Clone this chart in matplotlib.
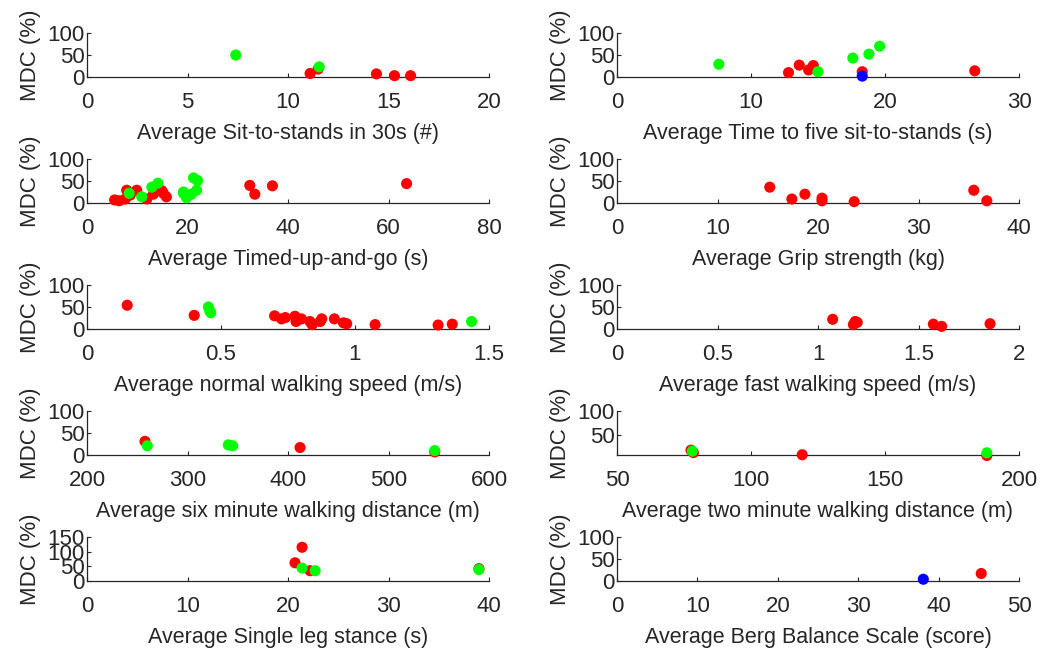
import numpy as np
import matplotlib.pyplot as plt

plt.rcParams['font.family'] = ['Liberation Sans', 'DejaVu Sans']

# ---- data (x = average score, y = MDC %) ----
# sit-to-stands in 30s
sts30_red_x = [11.1, 11.5, 14.4, 15.3, 16.1]
sts30_red_y = [8, 18, 7, 3, 3]
sts30_green_x = [7.4, 11.55]
sts30_green_y = [50, 23]

# time to five sit-to-stands
ftsts_red_x = [12.8, 13.6, 14.3, 14.65, 18.3, 26.7]
ftsts_red_y = [10, 27, 16, 26, 12, 14]
ftsts_green_x = [7.6, 15.0, 17.6, 18.8, 19.6]
ftsts_green_y = [29, 12, 43, 52, 70]
ftsts_blue_x = [18.3]
ftsts_blue_y = [2]

# timed-up-and-go
tug_red_x = [5.5, 6.4, 7.6, 7.9, 8.6, 9.9, 11.9, 13.2, 14.9, 15.2, 15.8, 32.4, 33.4, 36.9, 63.6]
tug_red_y = [7, 5, 9, 29, 18, 29, 9, 20, 28, 22, 14, 40, 20, 39, 44]
tug_green_x = [8.4, 10.9, 12.9, 14.1, 19.2, 19.2, 19.8, 20.8, 21.2, 22.0, 21.8]
tug_green_y = [22, 14, 36, 45, 25, 22, 12, 20, 57, 51, 29]

# grip strength
grip_red_x = [15.2, 17.4, 18.7, 20.4, 20.4, 23.6, 35.5, 36.8]
grip_red_y = [36, 9, 20, 11, 5, 3, 29, 5]

# normal walking speed
nws_red_x = [0.15, 0.40, 0.70, 0.726, 0.74, 0.776, 0.78, 0.80, 0.832, 0.84, 0.876,
             0.87, 0.923, 0.957, 0.969, 1.075, 1.31, 1.363]
nws_red_y = [54, 31, 30, 23, 26, 29, 17, 23, 17, 10, 23, 17, 23, 14, 12, 10, 9, 11]
nws_green_x = [0.453, 0.459, 0.462, 1.435]
nws_green_y = [50, 40, 37, 17]

# fast walking speed
fws_red_x = [1.073, 1.176, 1.185, 1.195, 1.574, 1.615, 1.856]
fws_red_y = [22, 10, 17, 15, 11, 6, 12]

# six minute walking distance
smwd_red_x = [257.7, 412, 546]
smwd_red_y = [31, 17, 7]
smwd_green_x = [260, 340.6, 345, 546]
smwd_green_y = [21, 23, 21, 10]

# two minute walking distance
tmwd_red_x = [77.6, 78.5, 119.1, 188]
tmwd_red_y = [19, 14, 9.5, 8]
tmwd_green_x = [78.1, 188]
tmwd_green_y = [17, 13.5]

# single leg stance
sls_red_x = [20.7, 21.4, 22.2, 39]
sls_red_y = [62, 115, 35, 42]
sls_green_x = [21.4, 22.7, 39]
sls_green_y = [44, 35, 39]

# berg balance scale
bbs_red_x = [45.3]
bbs_red_y = [17]
bbs_blue_x = [38.1]
bbs_blue_y = [4]

panels = [
    ('Average Sit-to-stands in 30s (#)', (0, 20), [0, 5, 10, 15, 20], (0, 100), [0, 50, 100],
     (sts30_red_x, sts30_red_y), (sts30_green_x, sts30_green_y), None),
    ('Average Time to five sit-to-stands (s)', (0, 30), [0, 10, 20, 30], (0, 100), [0, 50, 100],
     (ftsts_red_x, ftsts_red_y), (ftsts_green_x, ftsts_green_y), (ftsts_blue_x, ftsts_blue_y)),
    ('Average Timed-up-and-go (s)', (0, 80), [0, 20, 40, 60, 80], (0, 100), [0, 50, 100],
     (tug_red_x, tug_red_y), (tug_green_x, tug_green_y), None),
    ('Average Grip strength (kg)', (0, 40), [0, 10, 20, 30, 40], (0, 100), [0, 50, 100],
     (grip_red_x, grip_red_y), None, None),
    ('Average normal walking speed (m/s)', (0, 1.5), [0, 0.5, 1, 1.5], (0, 100), [0, 50, 100],
     (nws_red_x, nws_red_y), (nws_green_x, nws_green_y), None),
    ('Average fast walking speed (m/s)', (0, 2), [0, 0.5, 1, 1.5, 2], (0, 100), [0, 50, 100],
     (fws_red_x, fws_red_y), None, None),
    ('Average six minute walking distance (m)', (200, 600), [200, 300, 400, 500, 600], (0, 100), [0, 50, 100],
     (smwd_red_x, smwd_red_y), (smwd_green_x, smwd_green_y), None),
    ('Average two minute walking distance (m)', (50, 200), [50, 100, 150, 200], (9, 100), [50, 100],
     (tmwd_red_x, tmwd_red_y), (tmwd_green_x, tmwd_green_y), None),
    ('Average Single leg stance (s)', (0, 40), [0, 10, 20, 30, 40], (0, 150), [0, 50, 100, 150],
     (sls_red_x, sls_red_y), (sls_green_x, sls_green_y), None),
    ('Average Berg Balance Scale (score)', (0, 50), [0, 10, 20, 30, 40, 50], (0, 100), [0, 50, 100],
     (bbs_red_x, bbs_red_y), None, (bbs_blue_x, bbs_blue_y)),
]

W, H = 1040, 650
fig = plt.figure(figsize=(W / 100, H / 100), dpi=100)
txt = '#262626'

for i, (xlab, xlim, xt, ylim, yt, red, green, blue) in enumerate(panels):
    row, col = divmod(i, 2)
    left = 87 if col == 0 else 617
    top = 33 + row * 126
    ax = fig.add_axes([left / W, 1 - (top + 44) / H, 402 / W, 44 / H])
    for pts, c in [(red, '#ff0000'), (green, '#00ff00'), (blue, '#0000ff')]:
        if pts is not None:
            ax.scatter(pts[0], pts[1], s=64, c=c, edgecolors='none', clip_on=False, zorder=3)
    ax.set_xlim(xlim)
    ax.set_ylim(ylim)
    ax.set_xticks(xt)
    ax.set_xticklabels([f'{v:g}' for v in xt])
    ax.set_yticks(yt)
    for s in ['top', 'right']:
        ax.spines[s].set_visible(False)
    for s in ['bottom', 'left']:
        ax.spines[s].set_color(txt)
        ax.spines[s].set_linewidth(0.9)
    ax.tick_params(direction='in', length=3, width=0.8, color=txt, labelcolor=txt, labelsize=16)
    ax.tick_params(axis='x', pad=11)
    ax.tick_params(axis='y', pad=1.5)
    ax.set_xlabel(xlab, fontsize=15.5, color=txt, labelpad=7)
    ax.set_ylabel('MDC (%)', fontsize=16, color=txt, labelpad=5)

fig.savefig('out.png', dpi=100)
